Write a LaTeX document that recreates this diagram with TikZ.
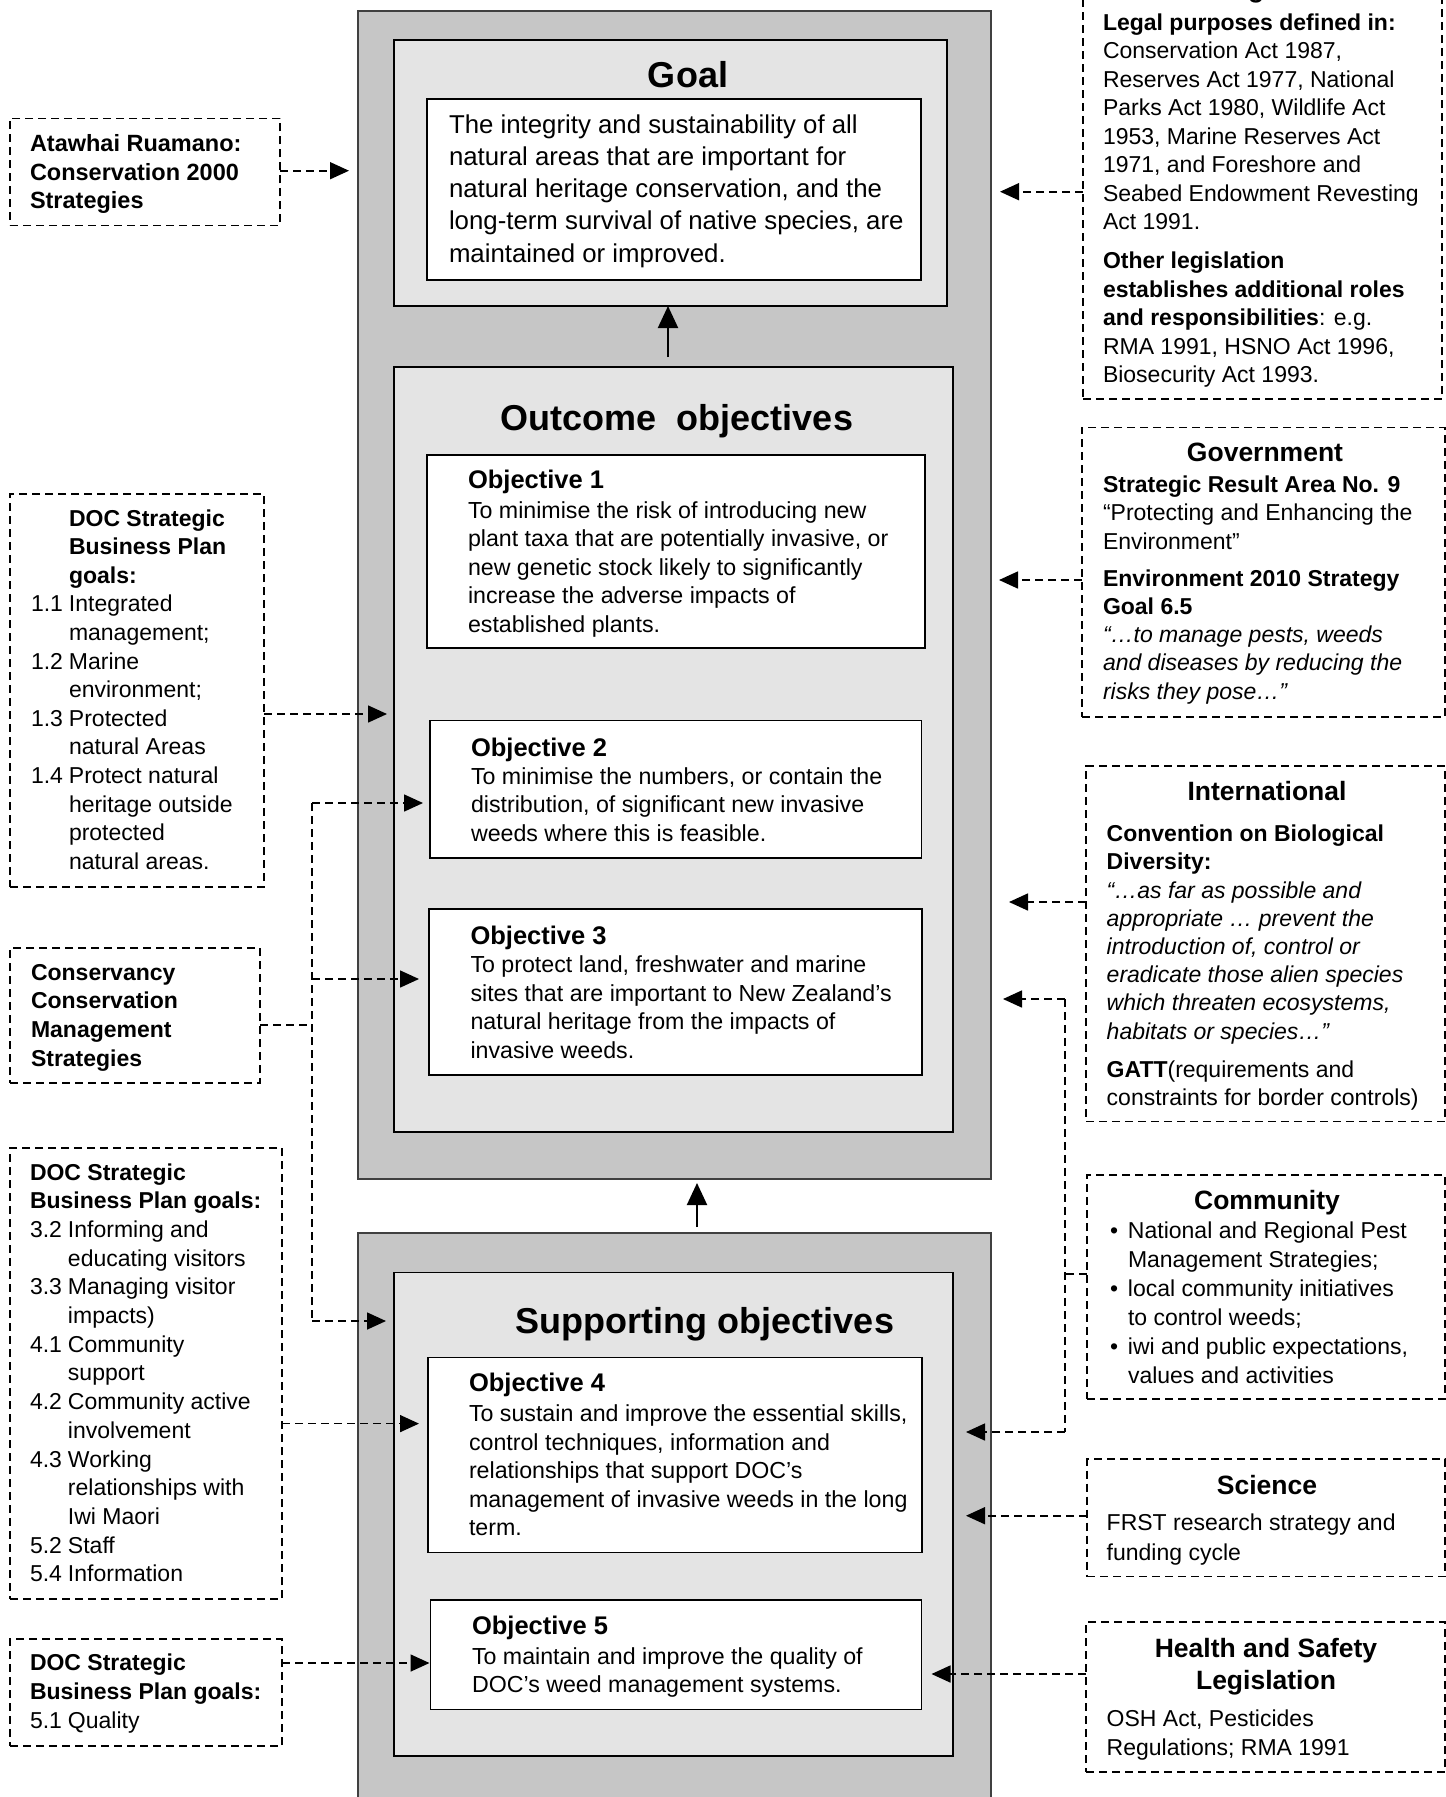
\documentclass[tikz,border=0pt]{standalone}
\usepackage{fontspec}
\setmainfont{Liberation Sans}
\usetikzlibrary{arrows.meta,fit}
\definecolor{outergray}{HTML}{C6C6C6}
\definecolor{innergray}{HTML}{E4E4E4}
\newcommand{\fs}[2]{\fontsize{#1}{#2}\selectfont}
\newcommand{\txtrows}[1]{\begin{tabular}[t]{@{}l@{}}#1\end{tabular}}
\newcommand{\ctrrows}[1]{\begin{tabular}[t]{@{}c@{}}#1\end{tabular}}
\newcommand{\itemno}[1]{\makebox[38pt][l]{#1}}
\newcommand{\hind}{\hspace*{38pt}}
\newcommand{\bul}{\makebox[18pt][l]{•}}
\newcommand{\bind}{\hspace*{18pt}}
\begin{document}
\begin{tikzpicture}[x=1pt,y=-1pt,
  outerbox/.style={draw=black!75, line width=1.3pt, fill=outergray, inner sep=0pt, outer sep=0pt},
  innerbox/.style={draw=black, line width=1.3pt, fill=innergray, inner sep=0pt, outer sep=0pt},
  whitebox/.style={draw=black, line width=1.3pt, fill=white, inner sep=0pt, outer sep=0pt},
  dbox/.style={draw=black, line width=1.6pt, dash pattern=on 8pt off 5pt, inner sep=0pt, outer sep=0pt},
  dline/.style={line width=1.6pt, dash pattern=on 8pt off 5pt},
  darr/.style={dline, -{Triangle[length=19pt,width=17pt]}},
  sarr/.style={line width=2pt, -{Triangle[length=22pt,width=20pt]}},
  txt/.style={anchor=base west, inner sep=0pt, outer sep=0pt, font=\fs{23}{28.6}},
  ctxt/.style={anchor=base, inner sep=0pt, outer sep=0pt},
  rtitle/.style={ctxt, font=\fs{26.5}{31.6}\bfseries},
  mtitle/.style={ctxt, font=\fs{36}{40}\bfseries},
  otitle/.style={txt, font=\fs{25.5}{30}\bfseries},
  obody/.style={txt, font=\fs{23.2}{28.6}},
]
\fill[white] (0,0) rectangle (1446,1797);
\useasboundingbox (0,0) rectangle (1446,1797);

% ---------- central boxes ----------
\node[outerbox, fit={(358,11) (991,1179)}] (outer1) {};
\node[innerbox, fit={(394,40) (947,306)}] (goalbox) {};
\node[whitebox, line width=1.8pt, fit={(427,99) (921,280)}] (goaltext) {};
\node[innerbox, fit={(394,367) (953,1132)}] (outin) {};
\node[whitebox, fit={(427,455) (925,648)}] (obj1) {};
\node[whitebox, fit={(430,720.5) (921.5,858)}] (obj2) {};
\node[whitebox, fit={(429,909) (922,1075)}] (obj3) {};
\node[outerbox, fit={(358,1233) (991,1840)}] (outer2) {};
\node[innerbox, fit={(394,1272.6) (953,1756)}] (supin) {};
\node[whitebox, fit={(428,1357.6) (922,1552.6)}] (obj4) {};
\node[whitebox, fit={(430.5,1600) (921.5,1709.6)}] (obj5) {};

% ---------- dashed side boxes ----------
\node[dbox, fit={(10,118.3) (280,225.3)}] (ataw) {};
\node[dbox, fit={(10,494) (264,887)}] (doc1) {};
\node[dbox, fit={(10,948) (260,1083)}] (cons) {};
\node[dbox, fit={(10,1148) (282,1599)}] (doc2) {};
\node[dbox, fit={(10,1639) (282,1746)}] (doc3) {};
\node[dbox, fit={(1083,-40) (1442,399)}] (legal) {};
\node[dbox, fit={(1082,427.5) (1445,716.7)}] (gov) {};
\node[dbox, fit={(1086,766) (1445,1121.6)}] (intl) {};
\node[dbox, fit={(1087,1175) (1445,1399)}] (comm) {};
\node[dbox, fit={(1087,1459) (1445,1576.5)}] (sci) {};
\node[dbox, fit={(1086,1622) (1445,1772)}] (health) {};

% ---------- central texts ----------
\node[mtitle] (goalT) at (688,87.3) {Goal};
\node[txt, font=\fs{25.8}{32.3}] (goalB) at (449,133) {\txtrows{The integrity and sustainability of all\\ natural areas that are important for\\ natural heritage conservation, and the\\ long-term survival of native species, are\\ maintained or improved.}};
\node[mtitle] (outT) at (677,430) {Outcome\ \ objectives};
\node[otitle] (o1T) at (468,488) {Objective 1};
\node[obody] (o1B) at (468,518) {\txtrows{To minimise the risk of introducing new\\ plant taxa that are potentially invasive, or\\ new genetic stock likely to significantly\\ increase the adverse impacts of\\ established plants.}};
\node[otitle] (o2T) at (471,756) {Objective 2};
\node[obody] (o2B) at (471,784) {\txtrows{To minimise the numbers, or contain the\\ distribution, of significant new invasive\\ weeds where this is feasible.}};
\node[otitle] (o3T) at (470.5,944) {Objective 3};
\node[obody] (o3B) at (470.5,972.6) {\txtrows{To protect land, freshwater and marine\\ sites that are important to New Zealand’s\\ natural heritage from the impacts of\\ invasive weeds.}};
\node[mtitle] (supT) at (705,1333) {Supporting objectives};
\node[otitle] (o4T) at (469,1391.7) {Objective 4};
\node[obody] (o4B) at (469,1421.5) {\txtrows{To sustain and improve the essential skills,\\ control techniques, information and\\ relationships that support DOC’s\\ management of invasive weeds in the long\\ term.}};
\node[otitle] (o5T) at (472,1634) {Objective 5};
\node[obody] (o5B) at (472,1664) {\txtrows{To maintain and improve the quality of\\ DOC’s weed management systems.}};

% ---------- left texts ----------
\node[txt, font=\fs{23.5}{28.6}\bfseries] (atawT) at (30,151.5) {\txtrows{Atawhai Ruamano:\\ Conservation 2000\\ Strategies}};
\node[txt] (doc1T) at (31,526) {\txtrows{\hind\textbf{DOC Strategic}\\ \hind\textbf{Business Plan}\\ \hind\textbf{goals:}\\ \itemno{1.1}Integrated\\ \hind management;\\ \itemno{1.2}Marine\\ \hind environment;\\ \itemno{1.3}Protected\\ \hind natural Areas\\ \itemno{1.4}Protect natural\\ \hind heritage outside\\ \hind protected\\ \hind natural areas.}};
\node[txt, font=\fs{23}{28.9}\bfseries] (consT) at (31,980) {\txtrows{Conservancy\\ Conservation\\ Management\\ Strategies}};
\node[txt, font=\fs{23}{28.7}] (doc2T) at (30,1180) {\txtrows{\textbf{DOC Strategic}\\ \textbf{Business Plan goals:}\\ \itemno{3.2}Informing and\\ \hind educating visitors\\ \itemno{3.3}Managing visitor\\ \hind impacts)\\ \itemno{4.1}Community\\ \hind support\\ \itemno{4.2}Community active\\ \hind involvement\\ \itemno{4.3}Working\\ \hind relationships with\\ \hind Iwi Maori\\ \itemno{5.2}Staff\\ \itemno{5.4}Information}};
\node[txt, font=\fs{23}{29}] (doc3T) at (30,1670) {\txtrows{\textbf{DOC Strategic}\\ \textbf{Business Plan goals:}\\ \itemno{5.1}Quality}};

% ---------- right texts ----------
\node[anchor=base west, inner sep=0pt, font=\fs{26.5}{31.6}\bfseries] (legalT) at (1217,-3) {Legislation};
\node[txt, font=\fs{23}{28.5}] (legalB) at (1103,30) {\txtrows{\textbf{Legal purposes defined in:}\\ Conservation Act 1987,\\ Reserves Act 1977, National\\ Parks Act 1980, Wildlife Act\\ 1953, Marine Reserves Act\\ 1971, and Foreshore and\\ Seabed Endowment Revesting\\ Act 1991.\\[10.5pt] \textbf{Other legislation}\\ \textbf{establishes additional roles}\\ \textbf{and responsibilities}: e.g.\\ RMA 1991, HSNO Act 1996,\\ Biosecurity Act 1993.}};
\node[rtitle] (govT) at (1265,461.4) {Government};
\node[txt, font=\fs{23}{28.2}] (govB) at (1103,492.6) {\txtrows{\textbf{Strategic Result Area No. 9}\\ “Protecting and Enhancing the\\ Environment”\\[9pt] \textbf{Environment 2010 Strategy}\\ \textbf{Goal 6.5}\\ \textit{“…to manage pests, weeds}\\ \textit{and diseases by reducing the}\\ \textit{risks they pose…”}}};
\node[rtitle] (intlT) at (1267,800) {International};
\node[txt, font=\fs{23}{28.2}] (intlB) at (1106.7,841.6) {\txtrows{\textbf{Convention on Biological}\\ \textbf{Diversity:}\\ \textit{“…as far as possible and}\\ \textit{appropriate … prevent the}\\ \textit{introduction of, control or}\\ \textit{eradicate those alien species}\\ \textit{which threaten ecosystems,}\\ \textit{habitats or species…”}\\[10.5pt] \textbf{GATT}(requirements and\\ constraints for border controls)}};
\node[rtitle] (commT) at (1267,1209) {Community};
\node[txt, font=\fs{23}{28.9}] (commB) at (1110,1238.8) {\txtrows{\bul National and Regional Pest\\ \bind Management Strategies;\\ \bul local community initiatives\\ \bind to control weeds;\\ \bul iwi and public expectations,\\ \bind values and activities}};
\node[rtitle] (sciT) at (1267,1494) {Science};
\node[txt, font=\fs{23}{30}] (sciB) at (1106.7,1530) {\txtrows{FRST research strategy and\\ funding cycle}};
\node[rtitle] (healthT) at (1266,1657.4) {\ctrrows{Health and Safety\\ Legislation}};
\node[txt, font=\fs{23}{28.8}] (healthB) at (1106.7,1726.4) {\txtrows{OSH Act, Pesticides\\ Regulations; RMA 1991}};

% ---------- connector coordinates ----------
\coordinate (yA) at (0,170.7);
\coordinate (yD1) at (0,714);
\coordinate (jT) at (312,803);
\coordinate (j3) at (312,979);
\coordinate (jC) at (312,1025);
\coordinate (jB) at (312,1321);
\coordinate (yD2) at (0,1423.6);
\coordinate (yD3) at (0,1663);
\coordinate (yL) at (0,191.7);
\coordinate (yG) at (0,580);
\coordinate (yI) at (0,902);
\coordinate (cT) at (1065,999);
\coordinate (cM) at (1065,1274);
\coordinate (cB) at (1065,1432);
\coordinate (yS) at (0,1515.7);
\coordinate (yH) at (0,1674);
\coordinate (xA1) at (668,0);
\coordinate (xA2) at (697,0);

% ---------- solid arrows ----------
\draw[sarr, shorten <=10pt] (outin.north -| xA1) -- (goalbox.south -| xA1);
\draw[sarr, shorten <=6pt, shorten >=4pt] (outer2.north -| xA2) -- (outer1.south -| xA2);

% ---------- left connectors ----------
\draw[darr, shorten >=9pt] (ataw.east |- yA) -- (outer1.west |- yA);
\draw[darr, shorten >=7pt] (doc1.east |- yD1) -- (outin.west |- yD1);
\draw[dline] (jT) -- (jB);
\draw[dline] (cons.east |- jC) -- (jC);
\draw[darr, shorten >=7pt] (jT) -- (obj2.west |- jT);
\draw[darr, shorten >=10pt] (j3) -- (obj3.west |- j3);
\draw[darr, shorten >=8pt] (jB) -- (supin.west |- jB);
\draw[darr, shorten >=9pt] (doc2.east |- yD2) -- (obj4.west |- yD2);
\draw[darr, shorten >=1pt] (doc3.east |- yD3) -- (obj5.west |- yD3);

% ---------- right connectors ----------
\draw[darr, shorten >=9pt] (legal.west |- yL) -- (outer1.east |- yL);
\draw[darr, shorten >=8pt] (gov.west |- yG) -- (outer1.east |- yG);
\draw[darr, shorten >=18pt] (intl.west |- yI) -- (outer1.east |- yI);
\draw[dline] (comm.west |- cM) -- (cM);
\draw[dline] (cT) -- (cB);
\draw[darr, shorten >=12pt] (cT) -- (outer1.east |- cT);
\draw[darr, shorten >=13pt] (cB) -- (supin.east |- cB);
\draw[darr, shorten >=13pt] (sci.west |- yS) -- (supin.east |- yS);
\draw[darr, shorten >=10pt] (health.west |- yH) -- (obj5.east |- yH);
\end{tikzpicture}
\end{document}
